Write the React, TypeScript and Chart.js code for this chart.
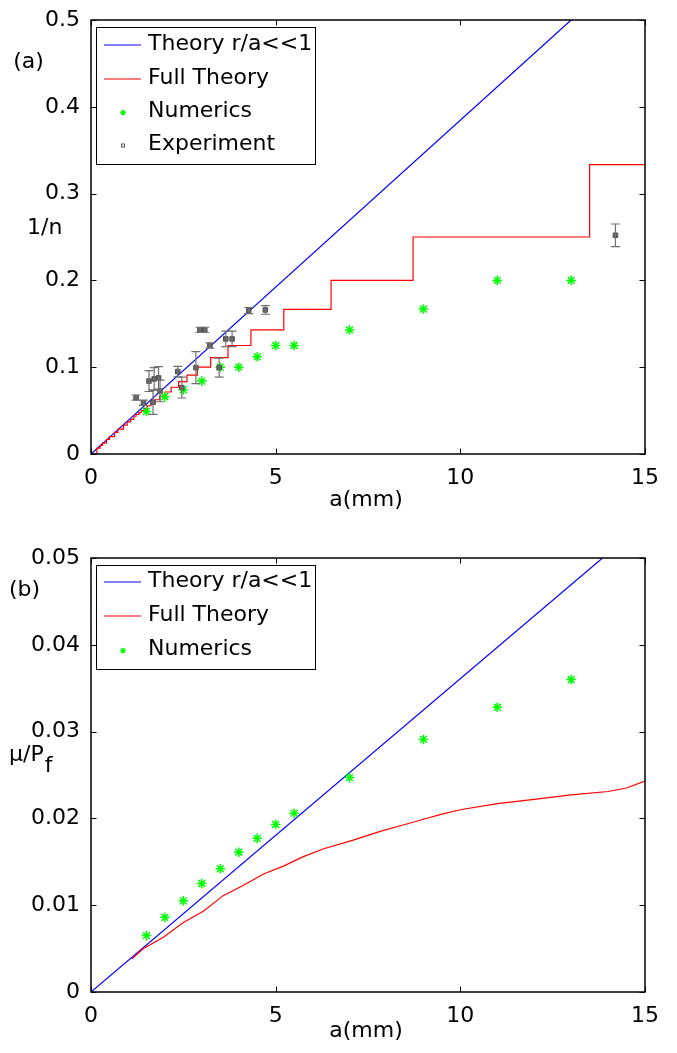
import React, { useEffect, useRef } from 'react';
import { Chart, registerables } from 'chart.js';
Chart.register(...registerables);

const FONT = "'DejaVu Sans', 'Liberation Sans', sans-serif";
Chart.defaults.font.family = FONT;
Chart.defaults.color = '#000';

// ---- axes ----
const xTicks = [0, 5, 10, 15];
const xTickLabels = ['0', '5', '10', '15'];
const yTicksA = [0, 0.1, 0.2, 0.3, 0.4, 0.5];
const yTickLabelsA = ['0', '0.1', '0.2', '0.3', '0.4', '0.5'];
const yTicksB = [0, 0.01, 0.02, 0.03, 0.04, 0.05];
const yTickLabelsB = ['0', '0.01', '0.02', '0.03', '0.04', '0.05'];

// ---- panel (a): 1/n vs a(mm) ----
const theoryAX = [0, 13.0];
const theoryAY = [0, 0.5];
const fullAX = [0, 0.16, 0.25, 0.31, 0.42, 0.5, 0.64, 0.73, 0.88, 0.98, 1.07, 1.16, 1.22, 1.29, 1.36, 1.44, 1.52, 1.62, 1.73, 1.86, 2.0, 2.17, 2.37, 2.6, 2.88, 3.24, 3.71, 4.33, 5.22, 6.5, 8.72, 13.5, 15];
const fullAY = [0, 0.0067, 0.01, 0.0125, 0.0167, 0.02, 0.025, 0.0286, 0.0333, 0.037, 0.04, 0.0435, 0.0455, 0.0476, 0.05, 0.0526, 0.0556, 0.0588, 0.0625, 0.0667, 0.0714, 0.0769, 0.0833, 0.0909, 0.1, 0.1111, 0.125, 0.1429, 0.1667, 0.2, 0.25, 0.3333, 0.3333];
const numAX = [1.5, 2, 2.5, 3, 3.5, 4, 4.5, 5, 5.5, 7, 9, 11, 13];
const numAY = [0.049, 0.066, 0.074, 0.084, 0.1, 0.1, 0.112, 0.125, 0.125, 0.143, 0.167, 0.2, 0.2];
const expAX = [1.22, 1.42, 1.57, 1.71, 1.83, 1.68, 1.87, 2.35, 2.46, 2.84, 2.95, 3.08, 3.22, 3.47, 3.65, 3.82, 4.27, 4.72, 14.2];
const expAY = [0.065, 0.059, 0.084, 0.0865, 0.0877, 0.0596, 0.0727, 0.095, 0.0765, 0.0995, 0.143, 0.143, 0.125, 0.0995, 0.1326, 0.1326, 0.1653, 0.166, 0.252];
const expAErr = [0.003, 0.003, 0.012, 0.013, 0.013, 0.014, 0.0125, 0.006, 0.012, 0.0185, 0.003, 0.003, 0.003, 0.011, 0.009, 0.009, 0.0035, 0.005, 0.013];

// ---- panel (b): mu/P_f vs a(mm) ----
const theoryBX = [0, 13.85];
const theoryBY = [0, 0.05];
const fullBX = [1.1, 1.42, 1.96, 2.5, 3.04, 3.58, 4.13, 4.67, 5.21, 5.75, 6.3, 7.1, 7.83, 8.5, 9, 9.5, 10, 11, 12, 13, 14, 14.5, 15];
const fullBY = [0.0038, 0.005, 0.0063, 0.008, 0.0093, 0.0111, 0.0123, 0.0136, 0.0145, 0.0156, 0.0165, 0.0175, 0.0185, 0.0193, 0.0199, 0.0205, 0.021, 0.0217, 0.0222, 0.0227, 0.0231, 0.0235, 0.0243];
const numBX = [1.5, 2, 2.5, 3, 3.5, 4, 4.5, 5, 5.5, 7, 9, 11, 13];
const numBY = [0.0065, 0.0086, 0.0105, 0.0125, 0.0142, 0.0161, 0.0177, 0.0193, 0.0206, 0.0247, 0.0291, 0.0328, 0.036];

const legendLabelsA = ['Theory r/a<<1', 'Full Theory', 'Numerics', 'Experiment'];
const legendLabelsB = ['Theory r/a<<1', 'Full Theory', 'Numerics'];

const BLUE = '#0000ff';
const RED = '#ff0000';
const GREEN = '#00ff00';
const GRAY = '#646464';

const pts = (xs: number[], ys: number[]) => xs.map((x, i) => ({ x, y: ys[i] }));

function lineDs(xs: number[], ys: number[], color: string, order: number, stepped = false) {
  return {
    data: pts(xs, ys), showLine: true, borderColor: color, backgroundColor: color,
    borderWidth: 1.2, pointRadius: 0, stepped, order,
  };
}
function starDs(xs: number[], ys: number[], order: number) {
  return {
    data: pts(xs, ys), showLine: false, pointStyle: 'star', pointRadius: 4.8,
    pointBorderWidth: 1.5, pointBorderColor: GREEN, pointBackgroundColor: GREEN, order,
  };
}

type LegendEntry = { label: string; kind: 'line' | 'star' | 'square'; color: string };

type Spec = {
  height: number; padTop: number; xAxisHeight: number; yMax: number;
  yTicks: number[]; yTickLabels: string[]; datasets: any[];
  legend: LegendEntry[]; legendRows: number[]; legendHeight: number; legendTop: number;
  errors?: { x: number[]; y: number[]; e: number[] };
  texts: (ctx: CanvasRenderingContext2D) => void;
};

function drawStar(ctx: CanvasRenderingContext2D, x: number, y: number, r: number) {
  ctx.beginPath();
  for (let k = 0; k < 4; k++) {
    const a = (k * Math.PI) / 4;
    ctx.moveTo(x - r * Math.cos(a), y - r * Math.sin(a));
    ctx.lineTo(x + r * Math.cos(a), y + r * Math.sin(a));
  }
  ctx.stroke();
}

function makePlugin(spec: Spec) {
  return {
    id: 'frame',
    afterDatasetsDraw(chart: any) {
      if (!spec.errors) return;
      const ctx = chart.ctx as CanvasRenderingContext2D;
      const xs = chart.scales.x, ys = chart.scales.y;
      ctx.save();
      ctx.strokeStyle = '#707070';
      ctx.lineWidth = 1.2;
      spec.errors.x.forEach((x, i) => {
        const px = xs.getPixelForValue(x);
        const t = ys.getPixelForValue(spec.errors!.y[i] + spec.errors!.e[i]);
        const b = ys.getPixelForValue(spec.errors!.y[i] - spec.errors!.e[i]);
        ctx.beginPath();
        ctx.moveTo(px, t); ctx.lineTo(px, b);
        ctx.moveTo(px - 4.5, t); ctx.lineTo(px + 4.5, t);
        ctx.moveTo(px - 4.5, b); ctx.lineTo(px + 4.5, b);
        ctx.stroke();
      });
      ctx.restore();
    },
    afterDraw(chart: any) {
      const ctx = chart.ctx as CanvasRenderingContext2D;
      const { left, right, top, bottom } = chart.chartArea;
      const xs = chart.scales.x, ys = chart.scales.y;
      ctx.save();
      // frame
      ctx.strokeStyle = '#000';
      ctx.lineWidth = 1.5;
      ctx.strokeRect(left, top, right - left, bottom - top);
      // inward ticks
      ctx.lineWidth = 1;
      ctx.beginPath();
      xTicks.forEach((v) => {
        const p = Math.round(xs.getPixelForValue(v)) + 0.5;
        ctx.moveTo(p, bottom); ctx.lineTo(p, bottom - 5.5);
        ctx.moveTo(p, top); ctx.lineTo(p, top + 5.5);
      });
      spec.yTicks.forEach((v) => {
        const p = Math.round(ys.getPixelForValue(v)) + 0.5;
        ctx.moveTo(left, p); ctx.lineTo(left + 5.5, p);
        ctx.moveTo(right, p); ctx.lineTo(right - 5.5, p);
      });
      ctx.stroke();
      // legend
      const bx = left + 5, by = spec.legendTop, bw = 219, bh = spec.legendHeight;
      ctx.fillStyle = '#fff';
      ctx.fillRect(bx, by, bw, bh);
      ctx.strokeStyle = '#000';
      ctx.lineWidth = 1;
      ctx.strokeRect(bx + 0.5, by + 0.5, bw, bh);
      ctx.font = `22px ${FONT}`;
      ctx.textBaseline = 'middle';
      ctx.textAlign = 'left';
      spec.legend.forEach((en, i) => {
        const y = by + spec.legendRows[i];
        if (en.kind === 'line') {
          ctx.strokeStyle = en.color;
          ctx.lineWidth = 1.2;
          ctx.beginPath();
          ctx.moveTo(bx + 8, y); ctx.lineTo(bx + 45, y);
          ctx.stroke();
        } else if (en.kind === 'star') {
          ctx.strokeStyle = en.color;
          ctx.lineWidth = 1.2;
          drawStar(ctx, bx + 27, y, 2.8);
        } else {
          ctx.strokeStyle = en.color;
          ctx.lineWidth = 1;
          ctx.strokeRect(bx + 25.5, y - 1.5, 3, 3);
        }
        ctx.fillStyle = '#000';
        ctx.fillText(en.label, bx + 52, y - 1);
      });
      // texts
      ctx.fillStyle = '#000';
      spec.texts(ctx);
      ctx.restore();
    },
  };
}

function makeConfig(spec: Spec): any {
  return {
    type: 'scatter',
    data: { datasets: spec.datasets },
    options: {
      responsive: false,
      animation: false,
      devicePixelRatio: 1,
      events: [],
      layout: { padding: { top: spec.padTop, right: 32, left: 0, bottom: 0 } },
      plugins: { legend: { display: false }, tooltip: { enabled: false } },
      scales: {
        x: {
          type: 'linear', min: 0, max: 15,
          afterBuildTicks: (axis: any) => { axis.ticks = xTicks.map((v) => ({ value: v })); },
          afterFit: (scale: any) => { scale.height = spec.xAxisHeight; },
          ticks: {
            callback: (_v: any, i: number) => xTickLabels[i],
            font: { size: 22, family: FONT }, color: '#000', padding: 3,
            maxRotation: 0, autoSkip: false,
          },
          grid: { display: false },
          border: { display: false },
        },
        y: {
          type: 'linear', min: 0, max: spec.yMax,
          afterBuildTicks: (axis: any) => { axis.ticks = spec.yTicks.map((v) => ({ value: v })); },
          afterFit: (scale: any) => { scale.width = 91; },
          ticks: {
            callback: (_v: any, i: number) => spec.yTickLabels[i],
            font: { size: 22, family: FONT }, color: '#000', padding: 3, autoSkip: false,
          },
          grid: { display: false },
          border: { display: false },
        },
      },
    },
    plugins: [makePlugin(spec)],
  };
}

const specA: Spec = {
  height: 520, padTop: 20, xAxisHeight: 66, yMax: 0.5,
  yTicks: yTicksA, yTickLabels: yTickLabelsA,
  datasets: [
    lineDs(theoryAX, theoryAY, BLUE, 4),
    lineDs(fullAX, fullAY, RED, 3, true),
    starDs(numAX, numAY, 2),
    {
      data: pts(expAX, expAY), showLine: false, pointStyle: 'rect', pointRadius: 3.2,
      pointBorderWidth: 1, pointBorderColor: '#505050', pointBackgroundColor: GRAY, order: 1,
    },
  ],
  legend: [
    { label: legendLabelsA[0], kind: 'line', color: BLUE },
    { label: legendLabelsA[1], kind: 'line', color: RED },
    { label: legendLabelsA[2], kind: 'star', color: GREEN },
    { label: legendLabelsA[3], kind: 'square', color: '#555' },
  ],
  legendTop: 27, legendRows: [18, 52, 85.5, 118.5], legendHeight: 137,
  errors: { x: expAX, y: expAY, e: expAErr },
  texts: (ctx) => {
    ctx.font = `22px ${FONT}`;
    ctx.textBaseline = 'middle';
    ctx.textAlign = 'center';
    ctx.fillText('(a)', 28.5, 62);
    ctx.fillText('a(mm)', 366, 500);
    ctx.textAlign = 'left';
    ctx.fillText('1/n', 27, 228);
  },
};

const specB: Spec = {
  height: 533, padTop: 38, xAxisHeight: 61, yMax: 0.05,
  yTicks: yTicksB, yTickLabels: yTickLabelsB,
  datasets: [
    lineDs(theoryBX, theoryBY, BLUE, 4),
    lineDs(fullBX, fullBY, RED, 3),
    starDs(numBX, numBY, 2),
  ],
  legend: [
    { label: legendLabelsB[0], kind: 'line', color: BLUE },
    { label: legendLabelsB[1], kind: 'line', color: RED },
    { label: legendLabelsB[2], kind: 'star', color: GREEN },
  ],
  legendTop: 45, legendRows: [17, 51, 85.5], legendHeight: 104,
  texts: (ctx) => {
    ctx.font = `22px ${FONT}`;
    ctx.textBaseline = 'middle';
    ctx.textAlign = 'center';
    ctx.fillText('(b)', 24.5, 70);
    ctx.fillText('a(mm)', 366, 511);
    ctx.textAlign = 'left';
    ctx.textBaseline = 'alphabetic';
    const main = 'μ/P';
    ctx.fillText(main, 9, 241);
    const w = ctx.measureText(main).width;
    ctx.fillText('f', 9 + w + 1, 252);
  },
};

export default function App() {
  const refA = useRef<HTMLCanvasElement>(null);
  const refB = useRef<HTMLCanvasElement>(null);
  useEffect(() => {
    const a = new Chart(refA.current as HTMLCanvasElement, makeConfig(specA));
    const b = new Chart(refB.current as HTMLCanvasElement, makeConfig(specB));
    return () => { a.destroy(); b.destroy(); };
  }, []);
  return (
    <div style={{ position: 'absolute', left: 0, top: 0, width: 677, height: 1053, background: '#fff' }}>
      <canvas ref={refA} width={677} height={520} style={{ position: 'absolute', left: 0, top: 0, width: 677, height: 520 }} />
      <canvas ref={refB} width={677} height={533} style={{ position: 'absolute', left: 0, top: 520, width: 677, height: 533 }} />
    </div>
  );
}
